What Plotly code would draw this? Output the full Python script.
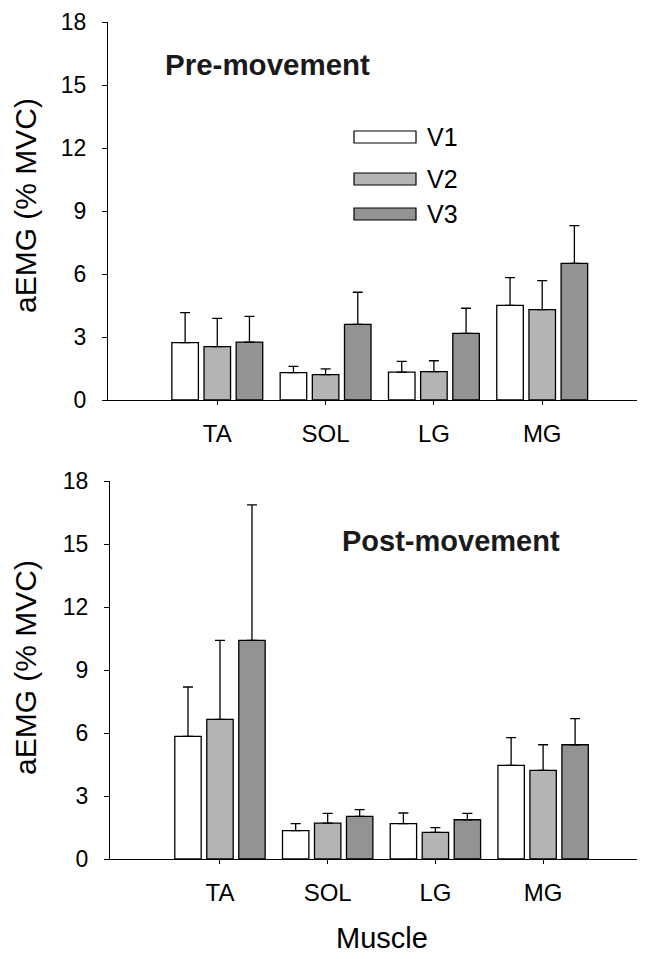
import plotly.graph_objects as go

muscles = ["TA", "SOL", "LG", "MG"]
series_names = ["V1", "V2", "V3"]
series_colors = ["#ffffff", "#b4b4b4", "#939393"]

# Pre-movement means and SD (upper error)
pre_v1 = [2.73, 1.30, 1.33, 4.51]
pre_v2 = [2.54, 1.21, 1.35, 4.30]
pre_v3 = [2.76, 3.60, 3.17, 6.51]
pre_v1_err = [1.43, 0.30, 0.51, 1.32]
pre_v2_err = [1.35, 0.27, 0.52, 1.38]
pre_v3_err = [1.22, 1.53, 1.20, 1.79]

# Post-movement means and SD (upper error)
post_v1 = [5.84, 1.35, 1.68, 4.46]
post_v2 = [6.65, 1.71, 1.27, 4.22]
post_v3 = [10.41, 2.03, 1.87, 5.44]
post_v1_err = [2.35, 0.33, 0.51, 1.32]
post_v2_err = [3.76, 0.46, 0.22, 1.22]
post_v3_err = [6.45, 0.32, 0.30, 1.24]

y_ticks = [0, 3, 6, 9, 12, 15, 18]

# page is 645x959; the html body adds an 8px margin, so the figure is 8px smaller
OFF = 8
W, H = 645 - OFF, 959 - OFF
MT, MB = 22 - OFF, 100
PH = H - MT - MB


def py(p):  # page pixel -> paper y
    return (959 - MB - p) / PH


def px(p):  # page pixel -> paper x
    return (p - OFF) / W


FONT = "Arial, Liberation Sans, Helvetica, sans-serif"

fig = go.Figure()

panels = [
    ("x", "y", [pre_v1, pre_v2, pre_v3], [pre_v1_err, pre_v2_err, pre_v3_err]),
    ("x2", "y2", [post_v1, post_v2, post_v3], [post_v1_err, post_v2_err, post_v3_err]),
]
for xa, ya, vals, errs in panels:
    for name, color, v, e in zip(series_names, series_colors, vals, errs):
        fig.add_trace(go.Bar(
            x=muscles, y=v, name=name, xaxis=xa, yaxis=ya,
            marker=dict(color=color, line=dict(color="black", width=1.3)),
            error_y=dict(type="data", symmetric=False, array=e,
                         arrayminus=[0] * len(e), color="black",
                         thickness=1.3, width=5),
            showlegend=False,
        ))

axis_common_x = dict(
    type="category", showline=True, linecolor="black", linewidth=1.2,
    ticks="outside", ticklen=4, tickcolor="black", showgrid=False,
    zeroline=False, tickfont=dict(family=FONT, size=24, color="black"),
    ticklabelstandoff=8,
)
axis_common_y = dict(
    range=[0, 18], tickvals=y_ticks, showline=True, linecolor="black",
    linewidth=1.2, ticks="outside", ticklen=5, tickcolor="black",
    showgrid=False, zeroline=False,
    tickfont=dict(family=FONT, size=23, color="black"),
    ticklabelstandoff=11,
)

fig.update_layout(
    width=W, height=H,
    margin=dict(l=0, r=0, t=MT, b=MB),
    paper_bgcolor="white", plot_bgcolor="white",
    barmode="group", bargap=0.109, bargroupgap=0.175,
    xaxis=dict(axis_common_x, domain=[px(108), 1], range=[-1.009, 3.949],
               anchor="y"),
    yaxis=dict(axis_common_y, domain=[py(400), py(22)], anchor="x"),
    xaxis2=dict(axis_common_x, domain=[px(110), 1], range=[-1.021, 3.946],
                anchor="y2"),
    yaxis2=dict(axis_common_y, domain=[py(859), py(481)], anchor="x2"),
)

annotations = []
# y-axis titles
for yc in (206, 668):
    annotations.append(dict(
        text="aEMG (% MVC)", x=px(25), y=py(yc), xref="paper", yref="paper",
        xanchor="center", yanchor="middle", textangle=-90, showarrow=False,
        font=dict(family=FONT, size=30, color="black")))
# x-axis title
annotations.append(dict(
    text="Muscle", x=px(382), y=py(938), xref="paper", yref="paper",
    xanchor="center", yanchor="middle", showarrow=False,
    font=dict(family=FONT, size=29, color="black")))
# panel titles
annotations.append(dict(
    text="<b>Pre-movement</b>", x=px(163), y=py(64), xref="paper", yref="paper",
    xanchor="left", yanchor="middle", showarrow=False,
    font=dict(family=FONT, size=29.5, color="#1a1a1a")))
annotations.append(dict(
    text="<b>Post-movement</b>", x=px(340), y=py(541), xref="paper", yref="paper",
    xanchor="left", yanchor="middle", showarrow=False,
    font=dict(family=FONT, size=29, color="#1a1a1a")))

# custom legend (wide rectangles)
shapes = []
legend_centers = [137, 179, 214]
for name, color, yc in zip(series_names, series_colors, legend_centers):
    shapes.append(dict(
        type="rect", xref="paper", yref="paper",
        x0=px(354), x1=px(416), y0=py(yc + 6), y1=py(yc - 6),
        fillcolor=color, line=dict(color="black", width=1.2)))
    annotations.append(dict(
        text=name, x=px(425), y=py(yc), xref="paper", yref="paper",
        xanchor="left", yanchor="middle", showarrow=False,
        font=dict(family=FONT, size=25, color="black")))

fig.update_layout(annotations=annotations, shapes=shapes)

fig.write_html("out.html")
